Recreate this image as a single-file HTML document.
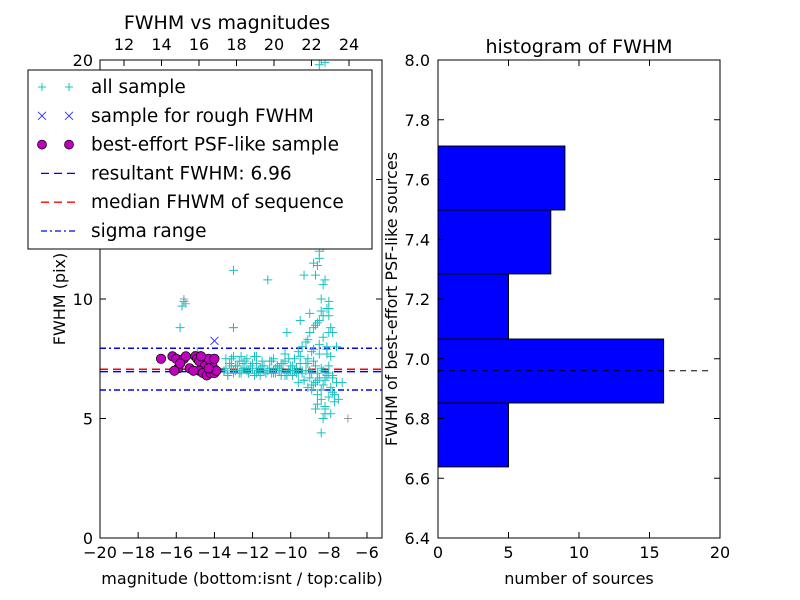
<!DOCTYPE html>
<html><head><meta charset="utf-8"><style>
html,body{margin:0;padding:0;background:#fff}
svg{display:block;font-family:"DejaVu Sans","Liberation Sans",sans-serif}
</style></head><body>
<svg id="c" width="800" height="600" viewBox="0 0 800 600">
<rect width="800" height="600" fill="#fff"/>
<g id="left"></g>
<g id="right"></g>
</svg>
<script>
// ---------- data ----------
const allMag = [-15.6,-15.7,-15.8,-13,-13,-14.8,-14.9,-11.2,-10.5,-10.2,-9.5,-9.3,-9.0,-8.8,-8.6,-8.5,-8.4,-8.3,-8.2,-8.1,-8.0,-7.9,-7.8,-7.6,-7.3,-8.5,-8.3,-8.7,-8.0,
 -13.4,-13.2,-13.0,-12.8,-12.6,-12.4,-12.2,-12.0,-11.8,-11.6,-11.4,-11.2,-11.0,-10.8,-10.6,-10.4,-10.2,-10.0,-9.8,-9.6,-9.4,-9.2,-9.0,-8.8,-8.6,-8.4,-8.2,-8.0,-7.8,
 -13.3,-13.1,-12.9,-12.7,-12.5,-12.3,-12.1,-11.9,-11.7,-11.5,-11.3,-11.1,-10.9,-10.7,-10.5,-10.3,-10.1,-9.9,-9.7,-9.5,-9.3,-9.1,-8.9,-8.7,-8.5,-8.3,-8.1,-7.9,
 -9.2,-9.0,-8.9,-8.7,-8.6,-8.5,-8.4,-8.3,-8.2,-8.1,-8.0,-7.9,-7.7,-9.1,-8.8,-8.6,-8.4,-8.2,-8.0,-7.8,-8.9,-8.5,-8.3,-8.1,-7.6,-8.7,-8.4,-8.2,-7.9,
 -12.6,-11.8,-10.9,-10.3,-9.6,-9.4,-9.1,-8.8,-8.6,-8.3,-8.0,-7.7,-7.5,-8.5,-8.2,-8.4,
 -13.5,-13.4,-13.2,-13.0,-12.9,-12.7,-12.5,-12.3,-12.2,-12.0,-11.9,-11.7,-11.5,-11.3,-11.1,-10.9,-10.7,-10.5,-10.3,-10.1,-9.9,-9.7,-9.5,-9.3,-9.1,-8.9,-8.7,-8.5,-8.3,-8.1,
 -13.3,-13.0,-12.6,-12.2,-11.8,-11.4,-11.0,-10.6,-10.2,-9.8,-9.4,-9.0,-8.6,-8.2,-7.8,-13.1,-12.4,-11.6,-10.8,-10.0,-9.2,-8.4,-8.8,-8.0,-9.6];
const allFwhm = [9.9,9.7,8.8,8.8,11.2,7.0,7.8,10.8,7.3,8.6,9.1,11.0,9.4,11.5,11.4,11.7,10.0,10.6,10.8,9.6,9.3,8.8,8.6,8.0,6.5,12.0,12.2,11.0,9.9,
 7.1,7.3,6.9,7.2,7.0,7.4,6.9,7.1,7.3,6.8,7.2,7.0,7.4,6.9,7.1,7.3,6.8,7.2,7.5,6.9,7.0,7.3,6.7,7.4,6.9,7.1,6.6,7.2,6.8,
 6.8,7.5,7.2,6.9,7.3,7.0,7.2,6.8,7.0,7.4,6.9,7.1,6.9,7.2,7.0,6.8,7.5,6.8,7.1,7.6,6.6,7.3,7.8,6.5,7.7,6.4,7.9,6.3,
 8.2,8.6,6.2,8.9,6.0,9.1,5.8,8.4,5.5,8.0,5.9,7.6,5.7,6.3,7.9,5.6,9.5,5.2,8.6,6.1,6.4,8.1,5.0,7.7,6.5,5.4,4.4,5.4,5.2,
 7.6,7.6,7.5,7.7,7.8,8.0,8.3,8.8,9.0,9.3,9.6,6.0,5.8,19.8,19.9,20.0,
 7.0,7.5,7.3,7.6,7.0,7.4,7.1,7.5,6.9,7.3,7.6,7.0,7.2,6.9,7.4,7.0,7.2,6.8,7.4,7.0,7.2,6.9,7.3,6.6,7.5,6.9,7.2,6.7,7.0,6.8,
 6.9,7.0,6.9,7.0,6.9,7.0,6.9,7.0,6.9,7.0,6.9,7.0,6.6,6.7,6.7,7.2,7.1,7.1,7.1,7.0,7.0,6.2,6.4,6.9,6.5];
const grayMag = [-15.6,-15.5,-13.0,-7.0];
const grayFwhm = [10.0,9.8,8.8,5.0];
const roughMag = [-14.0];
const roughFwhm = [8.25];
const psfMag = [-16.8,-16.2,-16.0,-15.9,-16.1,-15.6,-15.5,-15.8,-15.0,-14.9,-14.8,-14.5,-14.8,-14.6,-14.4,-14.2,-14.0,-14.1,-13.9,-14.3,-14.0,-15.3,-15.1,-14.7,-14.3];
const psfFwhm = [7.5,7.6,7.5,7.1,7.0,7.5,7.6,7.3,7.6,7.5,7.4,7.2,7.0,6.9,6.8,6.9,6.9,7.2,7.0,7.5,7.5,7.1,7.0,7.6,7.1];
const resultFwhm = 6.96, medianFwhm = 7.06, sigmaLo = 6.19, sigmaHi = 7.94;
const leftXTicks = [-20,-18,-16,-14,-12,-10,-8,-6];
const leftYTicks = [0,5,10,15,20];
const topTicks = [12,14,16,18,20,22,24];
const binEdges = [6.638,6.852,7.066,7.284,7.498,7.712];
const binCounts = [5,16,5,8,9];
const rightXTicks = [0,5,10,15,20];
const rightYTicks = [6.4,6.6,6.8,7.0,7.2,7.4,7.6,7.8,8.0];

// ---------- helpers ----------
const NS="http://www.w3.org/2000/svg";
function mk(parent,tag,attrs,text){const e=document.createElementNS(NS,tag);for(const k in attrs)e.setAttribute(k,attrs[k]);if(text!==undefined)e.textContent=text;parent.appendChild(e);return e;}
const L=document.getElementById('left'), R=document.getElementById('right');
const lx0=100,lx1=382,ly0=60,ly1=538;
const lxs=v=>lx0+(v+20)*19.07;
const lys=v=>ly1-(v/20)*(ly1-ly0);
const tx=v=>274+(v-20)*18.75;
const rx0=438,rx1=720,ry0=60,ry1=538;
const rxs=v=>rx0+v/20*(rx1-rx0);
const rys=v=>ry1-(v-6.4)/1.6*(ry1-ry0);

const defs=mk(document.getElementById('c'),'defs',{});
const cp=mk(defs,'clipPath',{id:'lc'});mk(cp,'rect',{x:lx0,y:ly0,width:lx1-lx0,height:ly1-ly0});
const plot=mk(L,'g',{'clip-path':'url(#lc)'});



function hline(v,color,dash,name){const e=mk(plot,'line',{x1:lx0,x2:lx1,y1:lys(v),y2:lys(v),stroke:color,'stroke-width':1.5,'stroke-dasharray':dash});

}
hline(sigmaHi,'#00f','6,3,2,3','sigma-upper-line');
hline(sigmaLo,'#00f','6,3,2,3','sigma-lower-line');
hline(medianFwhm,'#f00','8,5','median-fwhm-line');
hline(resultFwhm,'#00f','8,5','resultant-fwhm-line');

function plus(g,x,y,c,s){mk(g,'path',{d:`M${x-s} ${y}H${x+s}M${x} ${y-s}V${y+s}`,stroke:c,'stroke-width':1,fill:'none'});}
const gg=mk(plot,'g',{});


grayMag.forEach((m,i)=>plus(gg,lxs(m),lys(grayFwhm[i]),'#999',4));
const cg=mk(plot,'g',{});


allMag.forEach((m,i)=>plus(cg,lxs(m),lys(allFwhm[i]),'#1bc1c1',4.5));
const rg=mk(plot,'g',{});


roughMag.forEach((m,i)=>{const x=lxs(m),y=lys(roughFwhm[i]);mk(rg,'path',{d:`M${x-4} ${y-4}L${x+4} ${y+4}M${x-4} ${y+4}L${x+4} ${y-4}`,stroke:'#33f','stroke-width':1});});
const pg=mk(plot,'g',{});


psfMag.forEach((m,i)=>mk(pg,'circle',{cx:lxs(m),cy:lys(psfFwhm[i]),r:4.7,fill:'#bf00bf',stroke:'#000','stroke-width':0.7}));

const lf=mk(L,'rect',{x:lx0,y:ly0,width:lx1-lx0,height:ly1-ly0,fill:'none',stroke:'#000','stroke-width':1});


const lxa=mk(L,'g',{'font-size':16,'text-anchor':'middle'});


leftXTicks.forEach(v=>{const x=lxs(v);mk(lxa,'line',{x1:x,x2:x,y1:ly1,y2:ly1-6,stroke:'#000'});mk(lxa,'text',{x:x,y:ly1+20},'\u2212'+Math.abs(v));});
const tax=mk(L,'g',{'font-size':16,'text-anchor':'middle'});


topTicks.forEach(v=>{const x=tx(v);mk(tax,'line',{x1:x,x2:x,y1:ly0,y2:ly0+6,stroke:'#000'});mk(tax,'text',{x:x,y:ly0-10},v);});
const lya=mk(L,'g',{'font-size':16,'text-anchor':'end'});


leftYTicks.forEach(v=>{const y=lys(v);mk(lya,'line',{x1:lx0,x2:lx0+6,y1:y,y2:y,stroke:'#000'});mk(lya,'line',{x1:lx1,x2:lx1-6,y1:y,y2:y,stroke:'#000'});mk(lya,'text',{x:lx0-7,y:y+6},v);});
const t1=mk(L,'text',{x:227,y:29,'font-size':19,'text-anchor':'middle'},'FWHM vs magnitudes');


const xl1=mk(L,'text',{x:242,y:584,'font-size':16,'text-anchor':'middle'},'magnitude (bottom:isnt / top:calib)');


const yl1=mk(L,'text',{x:0,y:0,'font-size':16,'text-anchor':'middle',transform:'translate(65,299) rotate(-90)'},'FWHM (pix)');



const lg=mk(L,'g',{});


mk(lg,'rect',{x:28,y:70,width:344,height:179,fill:'#fff',stroke:'#000','stroke-width':1});
const labels=['all sample','sample for rough FWHM','best-effort PSF-like sample','resultant FWHM: 6.96','median FHWM of sequence','sigma range'];
labels.forEach((t,i)=>{const y=87+i*28.8;
 const e=mk(lg,'g',{});
 
 
 if(i==0){plus(e,42,y,'#1bc1c1',4);plus(e,69,y,'#1bc1c1',4);}
 if(i==1){[42,69].forEach(x=>mk(e,'path',{d:`M${x-4} ${y-4}L${x+4} ${y+4}M${x-4} ${y+4}L${x+4} ${y-4}`,stroke:'#33f'}));}
 if(i==2){[42,69].forEach(x=>mk(e,'circle',{cx:x,cy:y,r:4.5,fill:'#bf00bf',stroke:'#000','stroke-width':0.7}));}
 if(i==3)mk(e,'line',{x1:41,x2:75,y1:y,y2:y,stroke:'#00f','stroke-dasharray':'8,5','stroke-width':1.3});
 if(i==4)mk(e,'line',{x1:41,x2:75,y1:y,y2:y,stroke:'#f00','stroke-dasharray':'8,5','stroke-width':1.3});
 if(i==5)mk(e,'line',{x1:41,x2:75,y1:y,y2:y,stroke:'#00f','stroke-dasharray':'6,3,2,3','stroke-width':1.3});
 mk(e,'text',{x:91,y:y+6,'font-size':18.5},t);
});

binCounts.forEach((c,i)=>{const yT=rys(binEdges[i+1]),yB=rys(binEdges[i]);
 const b=mk(R,'rect',{x:rx0,y:yT,width:rxs(c)-rx0,height:yB-yT,fill:'#0000ff',stroke:'#000','stroke-width':1});
 
 });
const rl=mk(R,'line',{x1:rx0,x2:rxs(19.3),y1:rys(resultFwhm),y2:rys(resultFwhm),stroke:'#000','stroke-dasharray':'6,5','stroke-width':1});


const rf=mk(R,'rect',{x:rx0,y:ry0,width:rx1-rx0,height:ry1-ry0,fill:'none',stroke:'#000'});


const rxa=mk(R,'g',{'font-size':16,'text-anchor':'middle'});


rightXTicks.forEach(v=>{const x=rxs(v);mk(rxa,'line',{x1:x,x2:x,y1:ry1,y2:ry1-6,stroke:'#000'});mk(rxa,'line',{x1:x,x2:x,y1:ry0,y2:ry0+6,stroke:'#000'});mk(rxa,'text',{x:x,y:ry1+20},v);});
const rya=mk(R,'g',{'font-size':16,'text-anchor':'end'});


rightYTicks.forEach(v=>{const y=rys(v);mk(rya,'line',{x1:rx0,x2:rx0+6,y1:y,y2:y,stroke:'#000'});mk(rya,'line',{x1:rx1,x2:rx1-6,y1:y,y2:y,stroke:'#000'});mk(rya,'text',{x:rx0-8,y:y+6},v.toFixed(1));});
const t2=mk(R,'text',{x:579,y:53,'font-size':19,'text-anchor':'middle'},'histogram of FWHM');


const xl2=mk(R,'text',{x:579,y:584,'font-size':16,'text-anchor':'middle'},'number of sources');


const yl2=mk(R,'text',{x:0,y:0,'font-size':16,'text-anchor':'middle',transform:'translate(397,299) rotate(-90)'},'FWHM of best-effort PSF-like sources');


</script>
</body></html>
